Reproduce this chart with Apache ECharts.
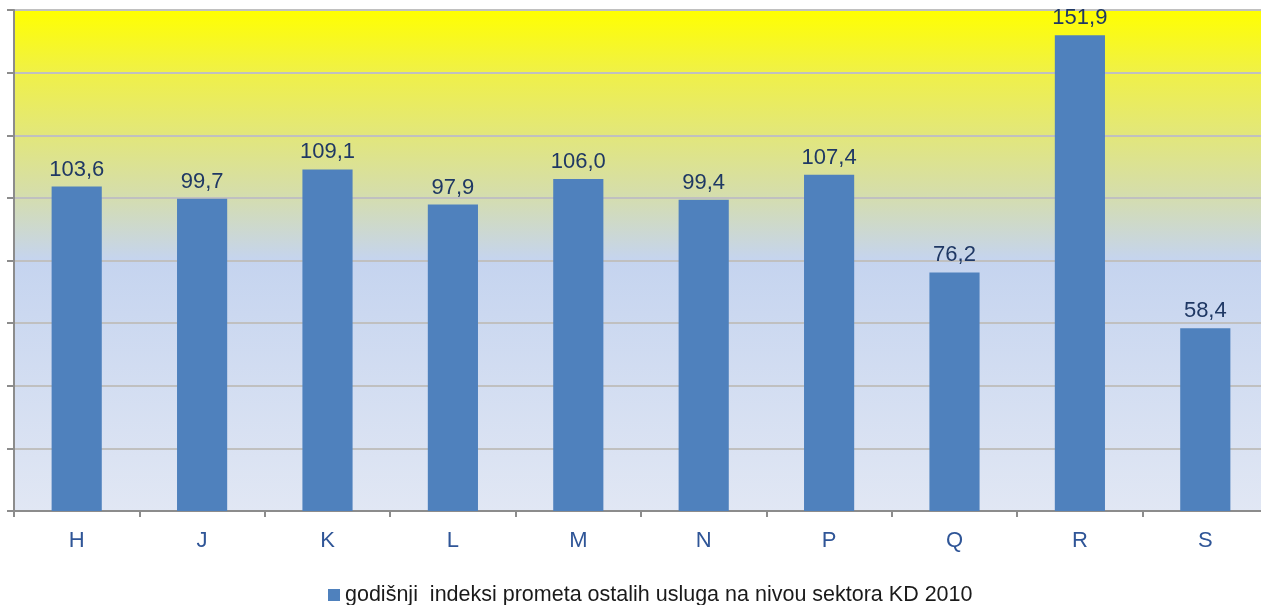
<!DOCTYPE html>
<html lang="hr">
  <head>
    <meta charset="UTF-8" />
    <title>Godišnji indeksi prometa ostalih usluga</title>
    <script src="https://cdn.jsdelivr.net/npm/echarts@6/dist/echarts.min.js"></script>
    <style>
      body {
        margin: 0;
        padding: 0;
        background: #ffffff;
        overflow: hidden;
      }
      /* graf je na originalu odrezan desno, zato je malo širi od prozora */
      #chart {
        width: 1268px;
        height: 605px;
      }
    </style>
  </head>
  <body>
    <div id="chart"></div>

    <script>
      // podaci
      var sectors = ['H', 'J', 'K', 'L', 'M', 'N', 'P', 'Q', 'R', 'S'];
      var indices = [103.6, 99.7, 109.1, 97.9, 106.0, 99.4, 107.4, 76.2, 151.9, 58.4];
      var seriesName = 'godišnji  indeksi prometa ostalih usluga na nivou sektora KD 2010';

      var chart = echarts.init(document.getElementById('chart'));

      var option = {
        animation: false,
        textStyle: { fontFamily: 'Liberation Sans, Arial, sans-serif' },
        grid: {
          left: 14,
          right: 0,
          top: 10,
          bottom: 94,
          show: true,
          borderWidth: 0,
          backgroundColor: new echarts.graphic.LinearGradient(0, 0, 0, 1, [
            { offset: 0, color: '#ffff00' },
            { offset: 0.13, color: '#eff04a' },
            { offset: 0.36, color: '#d6dea8' },
            { offset: 0.5, color: '#c5d4ef' },
            { offset: 1, color: '#e1e7f4' }
          ])
        },
        legend: {
          data: [seriesName],
          top: 579,
          left: 323,
          itemWidth: 12,
          itemHeight: 12,
          itemGap: 4,
          icon: 'rect',
          textStyle: { fontSize: 21.5, color: '#1a1a1a' }
        },
        xAxis: {
          type: 'category',
          data: sectors,
          axisLine: { lineStyle: { color: '#8c8c8c', width: 2 } },
          axisTick: { show: true, length: 6, lineStyle: { color: '#8c8c8c', width: 2 } },
          axisLabel: { fontSize: 22, color: '#2f5597', margin: 19 }
        },
        yAxis: {
          type: 'value',
          min: 0,
          max: 160,
          interval: 20,
          axisLine: { show: true, lineStyle: { color: '#8c8c8c', width: 2 } },
          axisTick: { show: true, length: 7, lineStyle: { color: '#8c8c8c', width: 2 } },
          axisLabel: { show: false },
          splitLine: { lineStyle: { color: '#c0c0c0', width: 2 } }
        },
        series: [
          {
            name: seriesName,
            type: 'bar',
            data: indices,
            barWidth: '40%',
            itemStyle: { color: '#4f81bd' },
            label: {
              show: true,
              position: 'top',
              distance: 6,
              fontSize: 22,
              color: '#1f3864',
              formatter: function (p) {
                return p.value.toFixed(1).replace('.', ',');
              }
            }
          }
        ]
      };

      chart.setOption(option);
    </script>
  </body>
</html>
